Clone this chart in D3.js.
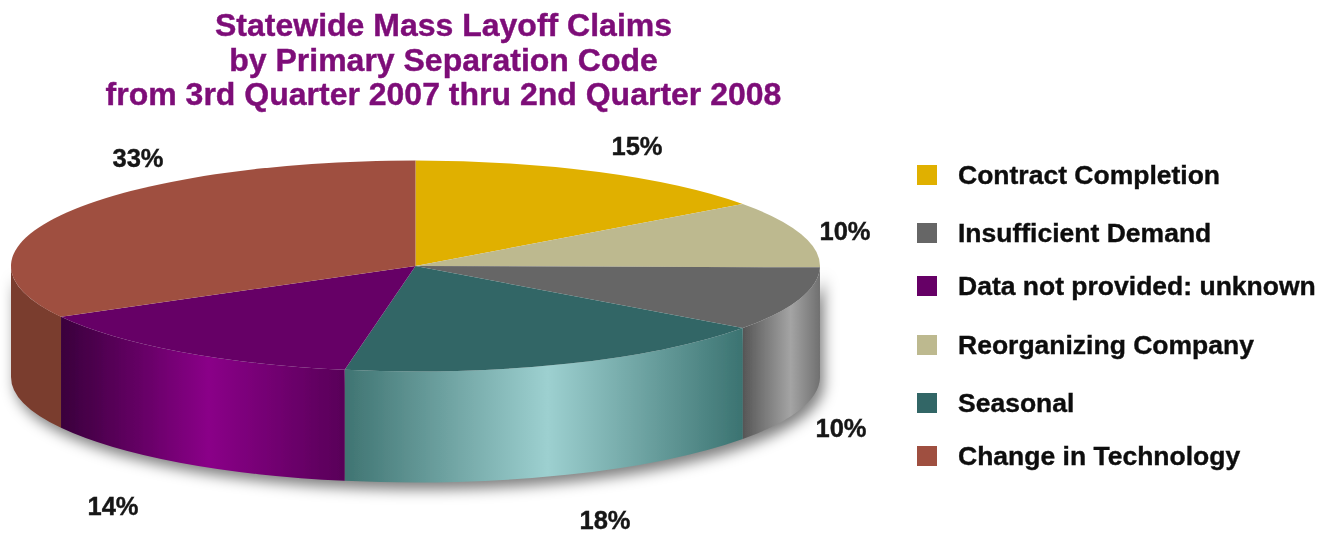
<!DOCTYPE html>
<html><head><meta charset="utf-8">
<script src="https://cdn.jsdelivr.net/npm/d3@7/dist/d3.min.js"></script>
<style>html,body{margin:0;padding:0;background:#fff}svg{display:block}text{font-family:"Liberation Sans",Arial,sans-serif;font-weight:bold}</style>
</head><body><div id="c"></div>
<script>
const titleLines = ["Statewide Mass Layoff Claims","by Primary Separation Code","from 3rd Quarter 2007 thru 2nd Quarter 2008"];
const categories = ["Contract Completion","Reorganizing Company","Insufficient Demand","Seasonal","Data not provided: unknown","Change in Technology"];
const values = [15,10.2,9.8,17.8,14.2,33];
const legendOrder = ["Contract Completion","Insufficient Demand","Data not provided: unknown","Reorganizing Company","Seasonal","Change in Technology"];
const topColors = ["#e0b000","#bdb98f","#666666","#336666","#660066","#9f5040"];
const sideStops = [
  [["0%","#a89000"],["100%","#a89000"]],
  [["0%","#706f5a"],["100%","#706f5a"]],
  [["0%","#565656"],["62%","#a4a4a4"],["100%","#707070"]],
  [["0%","#3f7472"],["51%","#9dd0d0"],["100%","#3b7371"]],
  [["0%","#3a003c"],["52%","#8a0088"],["100%","#580058"]],
  [["0%","#7a3c2e"],["100%","#7a3c2e"]]
];
const labelSpots = [[637,146],[845,231],[841,428],[605,520],[113,506],[138,158]];
const labelOrder = [0,1,2,3,4,5];
const legendRowY = [175,233,286,345,403,456];

const W=1326,H=535,cx=415.5,cy=266,rx=404.5,ry=105.5,depth=111;
const svg=d3.select("#c").append("svg").attr("width",W).attr("height",H);
const defs=svg.append("defs");
const f=defs.append("filter").attr("id","sh").attr("x","-5%").attr("y","-5%").attr("width","110%").attr("height","120%");
f.append("feGaussianBlur").attr("stdDeviation",7);
const soft=defs.append("filter").attr("id","soft");
soft.append("feGaussianBlur").attr("stdDeviation",0.5);
const softText=defs.append("filter").attr("id","softText").attr("x","-2%").attr("y","-5%").attr("width","104%").attr("height","110%");
softText.append("feGaussianBlur").attr("stdDeviation",0.35);

const arcs=d3.pie().sort(null).value(d=>d)(values);
const color=d3.scaleOrdinal(categories,topColors);
const px=a=>cx+rx*Math.sin(a), py=a=>cy-ry*Math.cos(a);

function wallPath(a0,a1){
  const large=(a1-a0)>Math.PI?1:0;
  let s=`M${px(a0)},${py(a0)}A${rx},${ry} 0 ${large} 1 ${px(a1)},${py(a1)}`;
  s+=`L${px(a1)},${py(a1)+depth}A${rx},${ry} 0 ${large} 0 ${px(a0)},${py(a0)+depth}Z`;
  return s;
}
const front=arcs.map((d,i)=>({i,a0:Math.max(d.startAngle,Math.PI/2),a1:Math.min(d.endAngle,3*Math.PI/2)})).filter(d=>d.a1>d.a0+1e-6);

svg.append("g").attr("filter","url(#sh)").append("path")
  .attr("d",wallPath(Math.PI/2,3*Math.PI/2))
  .attr("transform","translate(4,7)").attr("fill","#000").attr("opacity",.5);

const pie=svg.append("g").attr("filter","url(#soft)");
front.forEach(d=>{
  const g=defs.append("linearGradient").attr("id","w"+d.i).attr("x1",0).attr("x2",1).attr("y1",0).attr("y2",0);
  sideStops[d.i].forEach(s=>g.append("stop").attr("offset",s[0]).attr("stop-color",s[1]));
});
pie.selectAll("path.wall").data(front).join("path").attr("class","wall")
  .attr("d",d=>wallPath(d.a0,d.a1)).attr("fill",d=>`url(#w${d.i})`);
pie.append("g").attr("transform",`translate(${cx},${cy}) scale(1,${ry/rx})`)
  .selectAll("path").data(arcs).join("path")
  .attr("d",d3.arc().innerRadius(0).outerRadius(rx))
  .attr("fill",(d,i)=>color(categories[i]));

const tx=svg.append("g").attr("filter","url(#softText)");
tx.append("g").selectAll("text").data(titleLines).join("text")
  .attr("x",443.5).attr("y",(d,i)=>36+i*34.5).attr("text-anchor","middle")
  .attr("font-size",32).attr("fill","#7d0a78").attr("stroke","#7d0a78").attr("stroke-width",.4).text(d=>d);

tx.append("g").selectAll("text").data(labelOrder).join("text")
  .attr("x",i=>labelSpots[i][0]).attr("y",i=>labelSpots[i][1]+9).attr("text-anchor","middle")
  .attr("font-size",25.5).attr("fill","#151515").attr("stroke","#151515").attr("stroke-width",.4).text(i=>Math.round(values[i])+"%");

const lg=tx.append("g").selectAll("g").data(legendOrder).join("g")
  .attr("transform",(d,i)=>`translate(917,${legendRowY[i]})`);
lg.append("rect").attr("y",-10).attr("width",20).attr("height",20).attr("fill",d=>color(d));
lg.append("text").attr("x",41).attr("y",9).attr("font-size",26.5).attr("fill","#111").attr("stroke","#111").attr("stroke-width",.4).text(d=>d);
</script></body></html>
